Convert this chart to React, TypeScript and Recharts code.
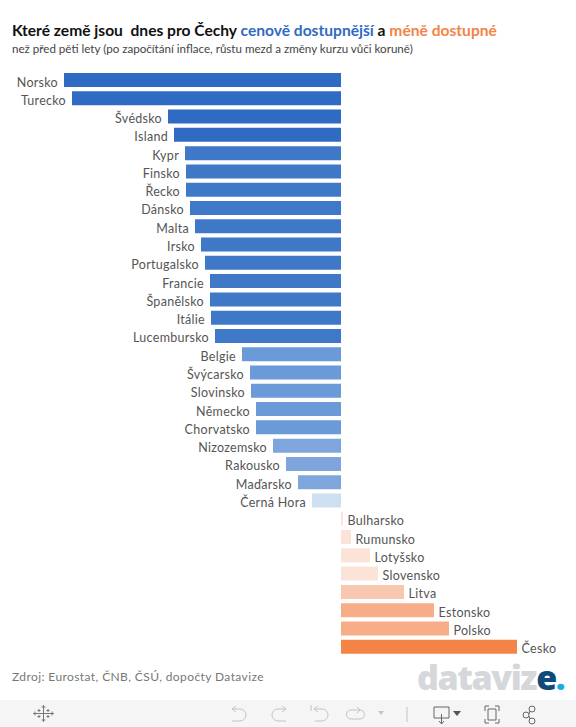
import React from "react";
import { Bar, BarChart, Cell, LabelList, XAxis, YAxis } from "recharts";

const countries = [
  "Norsko", "Turecko", "Švédsko", "Island", "Kypr", "Finsko", "Řecko", "Dánsko",
  "Malta", "Irsko", "Portugalsko", "Francie", "Španělsko", "Itálie", "Lucembursko",
  "Belgie", "Švýcarsko", "Slovinsko", "Německo", "Chorvatsko", "Nizozemsko",
  "Rakousko", "Maďarsko", "Černá Hora", "Bulharsko", "Rumunsko", "Lotyšsko",
  "Slovensko", "Litva", "Estonsko", "Polsko", "Česko",
];

const change = [
  -55.4, -53.8, -34.6, -33.4, -31.2, -31, -31, -30.2, -29.2, -28, -27.2, -26.2,
  -26.2, -26, -25.2, -19.8, -18.2, -18, -17, -17, -13.6, -11, -8.6, -5.8, 0.4, 2,
  5.8, 7.4, 12.6, 18.6, 21.6, 35.2,
];

const steps = [-33, -25, -16, -8, 0, 10, 15, 30, 100];
const stepColors = [
  "#2f6bc2", "#3f78c6", "#6a9ad8", "#7fa6dc", "#cddff0",
  "#fce3d7", "#f7c7b0", "#f6ad88", "#f48346",
];

const rows = countries.map((name, i) => ({ name, value: change[i] }));
const colorOf = (v: number) => stepColors[steps.findIndex((s) => v <= s)];

const font = "Lato, 'Open Sans', sans-serif";

function RowLabel(props: any) {
  const { x, y, width, height, value, index } = props;
  const left = Math.min(x, x + width);
  const right = Math.max(x, x + width);
  const negative = change[index] < 0;
  return (
    <text
      x={negative ? left - 6 : right + 4.5}
      y={y + height / 2 + 6.5}
      textAnchor={negative ? "end" : "start"}
      fontFamily={font}
      fontSize={12.5}
      letterSpacing={0.3}
      fill="#555"
    >
      {value}
    </text>
  );
}

function Toolbar() {
  const s = { fill: "none", stroke: "#c4c4c4", strokeWidth: 1 };
  const d = { fill: "none", stroke: "#666", strokeWidth: 1 };
  return (
    <svg width={576} height={27} style={{ position: "absolute", left: 0, top: 700, background: "#f5f5f5" }}>
      <g stroke="#777" strokeWidth={1}>
        <path d="M43.5 7v13M37 13.5h13M39 9v3M37.5 10.5h3M48 9v3M46.5 10.5h3M39 15v3M37.5 16.5h3M48 15v3M46.5 16.5h3M43.5 5v4M41.5 7h4M43.5 18v4M41.5 20h4M35 11.5v4M33 13.5h4M52 11.5v4M50 13.5h4" />
      </g>
      <path d="M232 9h8a6 6 0 0 1 0 12h-8M232 9l4-3M232 9l4 3" {...s} />
      <path d="M286 9h-8a6 6 0 0 0 0 12h8M286 9l-4-3M286 9l-4 3" {...s} />
      <path d="M311 5v6M314 9h8a6 6 0 0 1 0 12h-7M314 9l4-3M314 9l4 3" {...s} />
      <path d="M360 10h-9a4 4 0 0 0 0 9h9a4 4 0 0 0 0-9M360 10l-3-3M360 10l-3 3" {...s} />
      <path d="M378 11h6l-3 4z" fill="#c4c4c4" />
      <path d="M407 7v15" {...s} />
      <path d="M444 18h-10V7h15v11h-5M441.500 14v10M439 21l2.500 3 2.500-3" {...d} />
      <path d="M453 11h8l-4 5z" fill="#555" />
      <path d="M485 11V6h4M495 6h4v5M499 19v4h-4M489 23h-4v-4M488 9h8v11h-8z" {...d} />
      <circle cx={532} cy={9} r={3} {...d} />
      <circle cx={532} cy={21} r={3} {...d} />
      <circle cx={526} cy={15} r={3} {...d} />
      <path d="M529 14l1-3M529 16l1 3" {...d} />
    </svg>
  );
}

export default function App() {
  return (
    <div style={{ position: "absolute", left: 0, top: 0, width: 576, height: 727, background: "#fff", overflow: "hidden", fontFamily: font }}>
      <div style={{ position: "absolute", left: 12, top: 21, fontSize: 15.6, fontWeight: 700, color: "#111", whiteSpace: "pre" }}>
        Které země jsou  dnes pro Čechy <span style={{ color: "#2f6bc2" }}>cenově dostupnější</span> a{" "}
        <span style={{ color: "#f48346" }}>méně dostupné</span>
      </div>
      <div style={{ position: "absolute", left: 12, top: 42, fontSize: 11.6, color: "#444", whiteSpace: "pre" }}>
        než před pěti lety (po započítání inflace, růstu mezd a změny kurzu vůči koruně)
      </div>

      <div style={{ position: "absolute", left: 0, top: 0 }}>
        <BarChart
          width={576}
          height={727}
          data={rows}
          layout="vertical"
          margin={{ top: 71, right: 0, bottom: 71, left: 0 }}
        >
          <XAxis type="number" hide domain={[-68.2, 47]} />
          <YAxis type="category" dataKey="name" hide />
          <Bar dataKey="value" barSize={14} isAnimationActive={false}>
            {rows.map((r) => (
              <Cell key={r.name} fill={colorOf(r.value)} />
            ))}
            <LabelList dataKey="name" content={RowLabel} />
          </Bar>
        </BarChart>
      </div>

      <div style={{ position: "absolute", left: 12, top: 669, fontSize: 12, letterSpacing: 0.4, color: "#777" }}>
        Zdroj: Eurostat, ČNB, ČSÚ, dopočty Datavize
      </div>
      <div style={{ position: "absolute", left: 417, top: 660, lineHeight: "34px", fontFamily: "'Open Sans', sans-serif", fontSize: 34, fontWeight: 800, letterSpacing: -1.4, color: "#d5d7da", whiteSpace: "pre" }}>
        dataviz<span style={{ color: "#0f4a7a" }}>e</span><span style={{ color: "#1fa9e6" }}>.</span>
      </div>
      <Toolbar />
    </div>
  );
}
